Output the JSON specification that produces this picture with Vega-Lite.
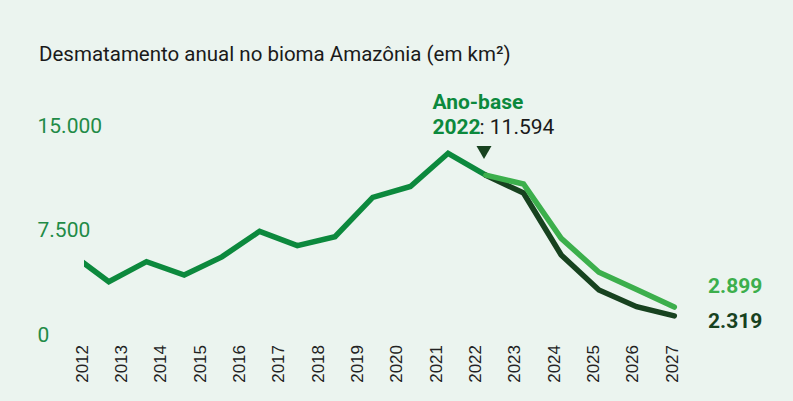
{
  "$schema": "https://vega.github.io/schema/vega-lite/v6.json",
  "width": 668,
  "height": 271,
  "autosize": {"type": "none"},
  "padding": {"left": 84, "top": 80, "right": 41, "bottom": 50},
  "background": "#EBF4EF",
  "config": {
    "view": {"stroke": null},
    "font": "Roboto",
    "locale": {"number": {"decimal": ",", "thousands": ".", "grouping": [3], "currency": ["R$", ""]}}
  },
  "title": {
    "text": "Desmatamento anual no bioma Amazônia (em km²)",
    "anchor": "start",
    "frame": "group",
    "dx": -45,
    "offset": -1.3,
    "baseline": "alphabetic",
    "font": "Roboto",
    "fontSize": 20.5,
    "fontWeight": "normal",
    "color": "#1a1a1a"
  },
  "datasets": {
    "serie": [
      {"ano": 2011, "valor": 6418, "serie": "Histórico"},
      {"ano": 2012, "valor": 4571, "serie": "Histórico"},
      {"ano": 2013, "valor": 5891, "serie": "Histórico"},
      {"ano": 2014, "valor": 5012, "serie": "Histórico"},
      {"ano": 2015, "valor": 6207, "serie": "Histórico"},
      {"ano": 2016, "valor": 7893, "serie": "Histórico"},
      {"ano": 2017, "valor": 6947, "serie": "Histórico"},
      {"ano": 2018, "valor": 7536, "serie": "Histórico"},
      {"ano": 2019, "valor": 10129, "serie": "Histórico"},
      {"ano": 2020, "valor": 10851, "serie": "Histórico"},
      {"ano": 2021, "valor": 13038, "serie": "Histórico"},
      {"ano": 2022, "valor": 11594, "serie": "Histórico"},
      {"ano": 2022, "valor": 11594, "serie": "Cenário A"},
      {"ano": 2023, "valor": 10419, "serie": "Cenário A"},
      {"ano": 2024, "valor": 6331, "serie": "Cenário A"},
      {"ano": 2025, "valor": 4023, "serie": "Cenário A"},
      {"ano": 2026, "valor": 2921, "serie": "Cenário A"},
      {"ano": 2027, "valor": 2319, "serie": "Cenário A"},
      {"ano": 2022, "valor": 11594, "serie": "Cenário B"},
      {"ano": 2023, "valor": 11013, "serie": "Cenário B"},
      {"ano": 2024, "valor": 7432, "serie": "Cenário B"},
      {"ano": 2025, "valor": 5190, "serie": "Cenário B"},
      {"ano": 2026, "valor": 4050, "serie": "Cenário B"},
      {"ano": 2027, "valor": 2899, "serie": "Cenário B"}
    ],
    "eixo": [
      {"ano": 2012, "valor": 0}, {"ano": 2013, "valor": 0}, {"ano": 2014, "valor": 0},
      {"ano": 2015, "valor": 0}, {"ano": 2016, "valor": 0}, {"ano": 2017, "valor": 0},
      {"ano": 2018, "valor": 0}, {"ano": 2019, "valor": 0}, {"ano": 2020, "valor": 0},
      {"ano": 2021, "valor": 0}, {"ano": 2022, "valor": 0}, {"ano": 2023, "valor": 0},
      {"ano": 2024, "valor": 0}, {"ano": 2025, "valor": 7500}, {"ano": 2026, "valor": 15000},
      {"ano": 2027, "valor": 0}
    ]
  },
  "resolve": {"scale": {"x": "independent", "y": "independent"}},
  "layer": [
    {
      "data": {"name": "eixo"},
      "mark": {"type": "point", "opacity": 0},
      "encoding": {
        "x": {
          "field": "ano", "type": "quantitative",
          "scale": {"domain": [2011.99237, 2028.9766], "nice": false, "zero": false},
          "axis": {
            "values": [2012, 2013, 2014, 2015, 2016, 2017, 2018, 2019, 2020, 2021, 2022, 2023, 2024, 2025, 2026, 2027],
            "format": "d", "labelAngle": -90, "labelAlign": "right", "labelBaseline": "middle",
            "labelFont": "Liberation Sans", "labelFontSize": 17, "labelColor": "#222222",
            "labelPadding": -6.5, "labelOffset": -2, "ticks": false, "tickSize": 0, "domain": false, "grid": false,
            "title": null, "labelFlush": false, "labelOverlap": false, "labelBound": false
          }
        },
        "y": {
          "field": "valor", "type": "quantitative",
          "scale": {"domain": [-1152.7, 18372], "nice": false, "zero": false},
          "axis": {
            "values": [0, 7500, 15000], "format": ",d",
            "labelAlign": "left", "labelBaseline": "middle", "labelPadding": 47,
            "labelFont": "Roboto", "labelFontSize": 21, "labelColor": "#1F8B47",
            "ticks": false, "tickSize": 0, "domain": false, "grid": false,
            "title": null, "labelFlush": false, "labelOverlap": false
          }
        }
      }
    },
    {
      "data": {"name": "serie"},
      "encoding": {
        "x": {"field": "ano", "type": "quantitative", "scale": {"domain": [2011.3422, 2029.061], "nice": false, "zero": false}, "axis": null},
        "y": {"field": "valor", "type": "quantitative", "scale": {"domain": [0, 17871], "nice": false, "zero": false}, "axis": null}
      },
      "layer": [
        {
          "mark": {"type": "line", "strokeWidth": 5.5, "strokeJoin": "miter", "strokeCap": "round", "clip": true},
          "encoding": {
            "color": {"field": "serie", "type": "nominal", "scale": {"domain": ["Histórico", "Cenário A", "Cenário B"], "range": ["#0C893D", "#17421F", "#3CAF4C"]}, "legend": null}
          }
        },
        {
          "transform": [{"filter": "datum.ano == 2022 && datum.serie == 'Histórico'"}],
          "mark": {"type": "point", "shape": "triangle-down", "filled": true, "size": 225, "opacity": 1, "color": "#17421F", "xOffset": -1.8, "yOffset": -22.7}
        },
        {
          "transform": [{"filter": "datum.ano == 2022 && datum.serie == 'Histórico'"}],
          "mark": {"type": "text", "text": "Ano-base", "align": "left", "baseline": "alphabetic", "dx": -53.4, "dy": -65.9, "font": "Roboto", "fontSize": 21, "fontWeight": "bold", "color": "#0C893D"}
        },
        {
          "transform": [{"filter": "datum.ano == 2022 && datum.serie == 'Histórico'"}],
          "mark": {"type": "text", "text": "2022", "align": "left", "baseline": "alphabetic", "dx": -53.4, "dy": -40.9, "font": "Roboto", "fontSize": 21, "fontWeight": "bold", "color": "#0C893D"}
        },
        {
          "transform": [{"filter": "datum.ano == 2022 && datum.serie == 'Histórico'"}],
          "mark": {"type": "text", "align": "left", "baseline": "alphabetic", "dx": -6.3, "dy": -40.9, "font": "Roboto", "fontSize": 21, "fontWeight": "normal", "color": "#1a1a1a"},
          "encoding": {"text": {"value": ": 11.594"}}
        },
        {
          "transform": [{"filter": "datum.ano == 2027 && datum.serie == 'Cenário B'"}],
          "mark": {"type": "text", "align": "left", "baseline": "alphabetic", "dx": 33.7, "dy": -13.7, "font": "Roboto", "fontSize": 21, "fontWeight": "bold", "color": "#3CAF4C"},
          "encoding": {"text": {"field": "valor", "type": "quantitative", "format": ",d"}}
        },
        {
          "transform": [{"filter": "datum.ano == 2027 && datum.serie == 'Cenário A'"}],
          "mark": {"type": "text", "align": "left", "baseline": "alphabetic", "dx": 33.7, "dy": 12.5, "font": "Roboto", "fontSize": 21, "fontWeight": "bold", "color": "#17421F"},
          "encoding": {"text": {"field": "valor", "type": "quantitative", "format": ",d"}}
        }
      ]
    }
  ]
}
